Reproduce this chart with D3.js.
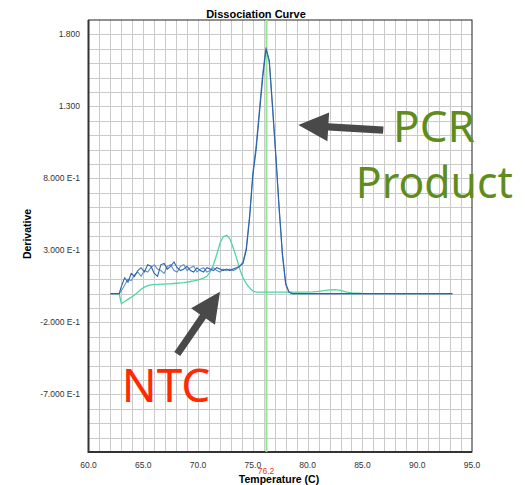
<!DOCTYPE html>
<html lang="en">
  <head>
    <meta charset="UTF-8" />
    <title>Dissociation Curve</title>
    <script src="https://d3js.org/d3.v7.min.js"></script>
    <style>
      body {
        margin: 0;
        background: #fff;
        font-family: "Liberation Sans", Arial, sans-serif;
      }
      svg text {
        font-family: "Liberation Sans", Arial, sans-serif;
      }
    </style>
  </head>
  <body>
    <div id="chart"></div>

    <script>
      // temperatures (C) shared by all three traces
      const temps = [
        62.0, 62.8, 63.0, 63.3, 63.6, 63.9, 64.2, 64.5, 64.8, 65.1, 65.4, 65.7,
        66.0, 66.3, 66.6, 66.9, 67.2, 67.5, 67.8, 68.1, 68.4, 68.7, 69.0, 69.3,
        69.6, 69.9, 70.2, 70.5, 70.8, 71.1, 71.4, 71.7, 72.0, 72.3, 72.6, 72.9,
        73.2, 73.5, 73.8, 74.1, 74.4, 74.7, 75.0, 75.3, 75.6, 75.9, 76.2, 76.5,
        76.8, 77.1, 77.4, 77.7, 78.0, 78.3, 78.6, 79.5, 80.5, 81.0, 81.5, 82.0,
        82.5, 83.0, 83.5, 84.0, 85.0, 88.0, 93.2,
      ];

      // PCR product, well 1
      const productA = [
        0, 0, 0.05, 0.11, 0.08, 0.14, 0.12, 0.16, 0.18, 0.15, 0.2, 0.19,
        0.14, 0.12, 0.2, 0.21, 0.17, 0.19, 0.22, 0.18, 0.16, 0.17, 0.19, 0.16,
        0.15, 0.18, 0.16, 0.15, 0.18, 0.17, 0.16, 0.18, 0.17, 0.16, 0.17, 0.16,
        0.17, 0.18, 0.19, 0.21, 0.3, 0.52, 0.82, 1.0, 1.25, 1.5, 1.7, 1.62,
        1.3, 0.96, 0.6, 0.28, 0.07, 0.01, 0, 0, 0, 0, 0, 0,
        0, 0, 0, 0, 0, 0, 0,
      ];

      // PCR product, well 2
      const productB = [
        0, 0, 0.02, 0.06, 0.1, 0.09, 0.13, 0.15, 0.12, 0.16, 0.15, 0.18,
        0.2, 0.17, 0.16, 0.14, 0.19, 0.2, 0.16, 0.15, 0.19, 0.2, 0.16, 0.18,
        0.19, 0.15, 0.17, 0.18, 0.15, 0.16, 0.18, 0.16, 0.15, 0.17, 0.16, 0.17,
        0.16, 0.17, 0.19, 0.22, 0.32, 0.54, 0.84, 1.03, 1.28, 1.53, 1.71, 1.6,
        1.28, 0.94, 0.58, 0.26, 0.06, 0.01, 0, 0, 0, 0, 0, 0,
        0, 0, 0, 0, 0, 0, 0,
      ];

      // no template control
      const ntc = [
        0, 0, -0.07, -0.055, -0.04, -0.025, -0.01, 0.01, 0.03, 0.045, 0.055, 0.06,
        0.063, 0.064, 0.066, 0.066, 0.068, 0.068, 0.07, 0.072, 0.074, 0.076, 0.08, 0.084,
        0.088, 0.093, 0.1, 0.108, 0.12, 0.15, 0.2, 0.27, 0.35, 0.395, 0.405, 0.38,
        0.32, 0.25, 0.17, 0.11, 0.07, 0.04, 0.018, 0.01, 0.01, 0.01, 0.01, 0.01,
        0.01, 0.01, 0.01, 0.01, 0.01, 0.01, 0.01, 0.01, 0.012, 0.015, 0.02, 0.026,
        0.028, 0.022, 0.012, 0.005, 0.002, 0, 0,
      ];

      const xTicks = [60, 65, 70, 75, 80, 85, 90, 95];
      const yTicks = [1.8, 1.3, 0.8, 0.3, -0.2, -0.7];
      const yTickLabels = ["1.800", "1.300", "8.000 E-1", "3.000 E-1", "-2.000 E-1", "-7.000 E-1"];
      const meltTemp = 76.2;

      const width = 525;
      const height = 485;
      const plot = { left: 88.5, right: 472, top: 20, bottom: 452 };

      const x = d3.scaleLinear().domain([60, 95]).range([plot.left, plot.right]);
      const y = d3.scaleLinear().domain([-1.1, 1.9]).range([plot.bottom, plot.top]);

      const svg = d3
        .select("#chart")
        .append("svg")
        .attr("width", width)
        .attr("height", height)
        .style("display", "block");

      // grid: 1 C vertical, 0.1 horizontal
      const grid = svg.append("g").attr("stroke", "#cacaca").attr("stroke-width", 1);
      grid
        .selectAll("line.v")
        .data(d3.range(61, 95))
        .join("line")
        .attr("class", "v")
        .attr("x1", (d) => Math.round(x(d)) + 0.5)
        .attr("x2", (d) => Math.round(x(d)) + 0.5)
        .attr("y1", plot.top)
        .attr("y2", plot.bottom);
      grid
        .selectAll("line.h")
        .data(d3.range(-10, 19))
        .join("line")
        .attr("class", "h")
        .attr("y1", (d) => Math.round(y(d / 10)) + 0.5)
        .attr("y2", (d) => Math.round(y(d / 10)) + 0.5)
        .attr("x1", plot.left)
        .attr("x2", plot.right);

      // frame
      svg
        .append("rect")
        .attr("x", plot.left)
        .attr("y", plot.top)
        .attr("width", plot.right - plot.left)
        .attr("height", plot.bottom - plot.top)
        .attr("fill", "none")
        .attr("stroke", "#222")
        .attr("stroke-width", 1);
      svg
        .append("path")
        .attr("d", `M${plot.left},${plot.top}V${plot.bottom}H${plot.right}`)
        .attr("fill", "none")
        .attr("stroke", "#333")
        .attr("stroke-width", 2);

      // melting temperature marker
      svg
        .append("line")
        .attr("x1", x(meltTemp) + 0.5)
        .attr("x2", x(meltTemp) + 0.5)
        .attr("y1", plot.top)
        .attr("y2", plot.bottom)
        .attr("stroke", "#8fe88f")
        .attr("stroke-width", 2);

      const line = (vals) =>
        d3
          .line()
          .x((d, i) => x(temps[i]))
          .y((d) => y(d))(vals);

      svg
        .append("path")
        .attr("d", line(ntc))
        .attr("fill", "none")
        .attr("stroke", "#4fd6a0")
        .attr("stroke-width", 1.3);
      svg
        .append("path")
        .attr("d", line(productB))
        .attr("fill", "none")
        .attr("stroke", "#5b8fcc")
        .attr("stroke-width", 1.1);
      svg
        .append("path")
        .attr("d", line(productA))
        .attr("fill", "none")
        .attr("stroke", "#2f62a4")
        .attr("stroke-width", 1.1);

      // tick labels
      svg
        .append("g")
        .selectAll("text")
        .data(yTicks)
        .join("text")
        .attr("x", 80)
        .attr("y", (d) => y(d))
        .attr("dy", "0.35em")
        .attr("text-anchor", "end")
        .style("font-size", "8.5px")
        .style("fill", "#333")
        .text((d, i) => yTickLabels[i]);

      svg
        .append("g")
        .selectAll("text")
        .data(xTicks)
        .join("text")
        .attr("x", (d) => x(d))
        .attr("y", 468)
        .attr("text-anchor", "middle")
        .style("font-size", "8.5px")
        .style("fill", "#333")
        .text((d) => d.toFixed(1));

      svg
        .append("text")
        .attr("x", x(meltTemp))
        .attr("y", 474)
        .attr("text-anchor", "middle")
        .style("font-size", "8.5px")
        .style("fill", "#d83a3a")
        .text(meltTemp.toFixed(1));

      svg
        .append("text")
        .attr("x", 279)
        .attr("y", 483)
        .attr("text-anchor", "middle")
        .style("font-size", "10.5px")
        .style("font-weight", "bold")
        .text("Temperature (C)");

      svg
        .append("text")
        .attr("transform", "translate(31,234) rotate(-90)")
        .attr("text-anchor", "middle")
        .style("font-size", "10.5px")
        .style("font-weight", "bold")
        .text("Derivative");

      svg
        .append("text")
        .attr("x", 256)
        .attr("y", 18)
        .attr("text-anchor", "middle")
        .style("font-size", "11px")
        .style("font-weight", "bold")
        .text("Dissociation Curve");

      // annotations: arrows from label to curve
      function arrow(from, to) {
        const x0 = x(from[0]), y0 = y(from[1]);
        const x1 = x(to[0]), y1 = y(to[1]);
        const len = Math.hypot(x1 - x0, y1 - y0);
        const ux = (x1 - x0) / len, uy = (y1 - y0) / len;
        const nx = -uy, ny = ux;
        const shaft = 3.6, head = 14.5, headLen = 30;
        const bx = x1 - ux * headLen, by = y1 - uy * headLen;
        const pts = [
          [x0 + nx * shaft, y0 + ny * shaft],
          [bx + nx * shaft, by + ny * shaft],
          [bx + nx * head, by + ny * head],
          [x1, y1],
          [bx - nx * head, by - ny * head],
          [bx - nx * shaft, by - ny * shaft],
          [x0 - nx * shaft, y0 - ny * shaft],
        ];
        svg
          .append("path")
          .attr("d", "M" + pts.map((p) => p.join(",")).join("L") + "Z")
          .attr("fill", "#494949");
      }

      arrow([86.9, 1.135], [79.15, 1.17]);
      arrow([68.1, -0.42], [72.0, 0.013]);

      svg
        .append("text")
        .attr("x", x(87.8))
        .attr("y", y(1.051))
        .style("font-family", "'Noto Sans', sans-serif")
        .style("font-size", "44px")
        .style("fill", "#5f8c1c")
        .text("PCR");
      svg
        .append("text")
        .attr("x", x(84.4))
        .attr("y", y(0.662))
        .style("font-family", "'Noto Sans', sans-serif")
        .style("font-size", "44px")
        .attr("textLength", 157)
        .attr("lengthAdjust", "spacingAndGlyphs")
        .style("fill", "#5f8c1c")
        .text("Product");
      svg
        .append("text")
        .attr("x", x(63.03))
        .attr("y", y(-0.751))
        .style("font-family", "'Noto Sans', sans-serif")
        .style("font-size", "46px")
        .style("fill", "#ff2a00")
        .text("NTC");
    </script>
  </body>
</html>
